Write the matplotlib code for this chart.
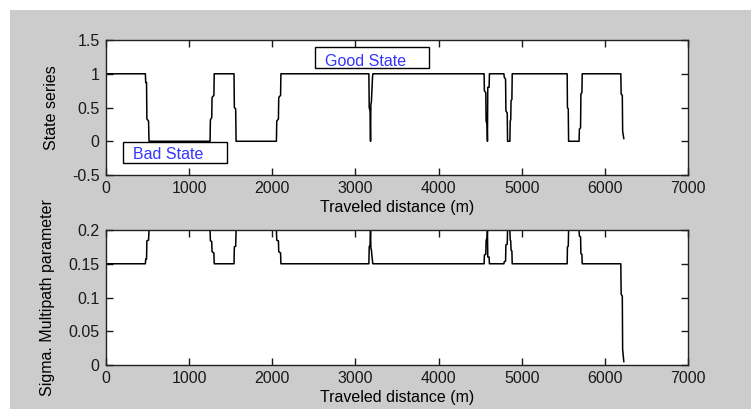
import matplotlib
matplotlib.use('Agg')
import matplotlib.pyplot as plt
from matplotlib.patches import Rectangle

plt.rcParams['font.family'] = ['Liberation Sans', 'DejaVu Sans']
plt.rcParams['font.size'] = 11.5

# distance samples (m) at the state changes
distance = [0, 474, 478, 488, 492, 512, 518,
            1252, 1256, 1272, 1276, 1298, 1302,
            1540, 1544, 1560, 1565,
            2050, 2054, 2074, 2078, 2100, 2104,
            3162, 3166, 3176, 3182, 3186, 3192, 3206, 3210,
            4548, 4551, 4568, 4572, 4584, 4588, 4592, 4608, 4612,
            4786, 4790, 4806, 4810, 4826, 4830,
            4858, 4862, 4868, 4872, 4882, 4886,
            5547, 5550, 5560, 5564,
            5690, 5694, 5708, 5712, 5724, 5728,
            6192, 6196, 6210, 6214, 6228]

state = [1, 1, 0.87, 0.87, 0.33, 0.3, 0,
         0, 0.32, 0.35, 0.65, 0.68, 1,
         1, 0.5, 0.48, 0,
         0, 0.3, 0.33, 0.65, 0.68, 1,
         1, 0.5, 0.45, 0, 0.55, 0.58, 0.95, 1,
         1, 0.75, 0.72, 0.3, 0.25, 0, 0.8, 0.8, 1,
         1, 0.95, 0.92, 0.45, 0.42, 0,
         0, 0.3, 0.32, 0.6, 0.62, 1,
         1, 0.5, 0.48, 0,
         0, 0.18, 0.2, 0.7, 0.72, 1,
         1, 0.7, 0.68, 0.15, 0.04]

sigma = [0.15, 0.15, 0.157, 0.157, 0.184, 0.185, 0.2,
         0.2, 0.184, 0.183, 0.168, 0.166, 0.15,
         0.15, 0.175, 0.176, 0.2,
         0.2, 0.185, 0.184, 0.168, 0.166, 0.15,
         0.15, 0.175, 0.178, 0.2, 0.173, 0.171, 0.153, 0.15,
         0.15, 0.163, 0.164, 0.185, 0.188, 0.2, 0.16, 0.16, 0.15,
         0.15, 0.153, 0.154, 0.178, 0.179, 0.2,
         0.2, 0.185, 0.184, 0.17, 0.169, 0.15,
         0.15, 0.175, 0.176, 0.2,
         0.2, 0.191, 0.19, 0.165, 0.164, 0.15,
         0.15, 0.105, 0.102, 0.023, 0.005]

x_ticks = [0, 1000, 2000, 3000, 4000, 5000, 6000, 7000]
state_ticks = [-0.5, 0, 0.5, 1, 1.5]
state_labels = ['-0.5', '0', '0.5', '1', '1.5']
sigma_ticks = [0, 0.05, 0.1, 0.15, 0.2]
sigma_labels = ['0', '0.05', '0.1', '0.15', '0.2']

fig = plt.figure(figsize=(7.51, 4.09), dpi=100, facecolor='white')
# gray figure panel like the matlab window
fig.add_artist(Rectangle((10 / 751, 0), 1, 1 - 10 / 409, transform=fig.transFigure,
                         facecolor='#cccccc', edgecolor='none', zorder=-10))

ax1 = fig.add_axes([0.1411, 0.5721, 0.775, 0.330])
ax2 = fig.add_axes([0.1411, 0.1076, 0.775, 0.330])

ax1.plot(distance, state, color='black', linewidth=1.1)
ax2.plot(distance, sigma, color='black', linewidth=1.1)

for ax in [ax1, ax2]:
    ax.set_xlim(0, 7000)
    ax.set_xticks(x_ticks)
    ax.set_xticklabels([str(t) for t in x_ticks])
    ax.tick_params(direction='in', top=True, right=True, length=5, width=1,
                   pad=4.5, colors='#1a1a1a')
    for s in ax.spines.values():
        s.set_linewidth(1)
        s.set_color('#222222')
    ax.set_xlabel('Traveled distance (m)', labelpad=2.5)
    ax.set_facecolor('white')

ax1.set_ylim(-0.5, 1.5)
ax1.set_yticks(state_ticks)
ax1.set_yticklabels(state_labels)
ax1.set_ylabel('State series', labelpad=9.5)

ax2.set_ylim(0, 0.2)
ax2.set_yticks(sigma_ticks)
ax2.set_yticklabels(sigma_labels)
ax2.set_ylabel('Sigma. Multipath parameter', labelpad=9.5)

# text boxes
ax1.add_patch(Rectangle((0.359, 0.793), 0.196, 0.155, transform=ax1.transAxes,
                        facecolor='white', edgecolor='black', linewidth=1, zorder=5))
ax1.text(0.376, 0.807, 'Good State', transform=ax1.transAxes, color='#3333ff',
         va='baseline', ha='left', zorder=6)
ax1.add_patch(Rectangle((0.029, 0.089), 0.179, 0.155, transform=ax1.transAxes,
                        facecolor='white', edgecolor='black', linewidth=1, zorder=5))
ax1.text(0.046, 0.116, 'Bad State', transform=ax1.transAxes, color='#3333ff',
         va='baseline', ha='left', zorder=6)

plt.savefig('out.png', dpi=100, facecolor='white')
